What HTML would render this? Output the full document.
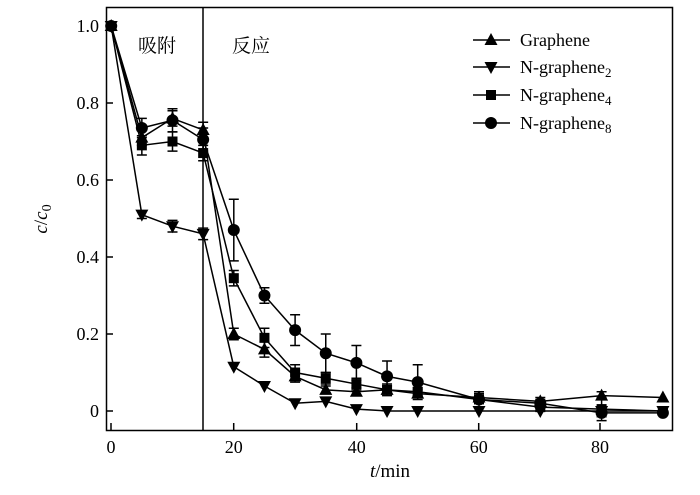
<!DOCTYPE html>
<html><head><meta charset="utf-8"><style>
body{margin:0;background:#fff}
svg text{font-family:"Liberation Serif","Noto Serif CJK SC",serif;fill:#000}
</style></head><body>
<svg id="s" width="700" height="490" viewBox="0 0 700 490" xmlns="http://www.w3.org/2000/svg">
<rect x="106.5" y="7.5" width="566" height="423" fill="none" stroke="#000" stroke-width="1.5"/>
<line x1="203" y1="7" x2="203" y2="430" stroke="#000" stroke-width="1.5"/>
<g stroke="#000" stroke-width="1.5">
<line x1="111" y1="430" x2="111" y2="423"/><line x1="233.7" y1="430" x2="233.7" y2="423"/><line x1="356.7" y1="430" x2="356.7" y2="423"/><line x1="478.7" y1="430" x2="478.7" y2="423"/><line x1="600" y1="430" x2="600" y2="423"/>
<line x1="106" y1="411" x2="113" y2="411"/><line x1="106" y1="334" x2="113" y2="334"/><line x1="106" y1="257" x2="113" y2="257"/><line x1="106" y1="180" x2="113" y2="180"/><line x1="106" y1="103" x2="113" y2="103"/><line x1="106" y1="26" x2="113" y2="26"/>
</g>
<g font-size="18" text-anchor="middle">
<text x="111" y="453">0</text><text x="233.7" y="453">20</text><text x="356.7" y="453">40</text><text x="478.7" y="453">60</text><text x="600" y="453">80</text>
</g>
<g font-size="18" text-anchor="end">
<text x="99" y="417">0</text><text x="99" y="340">0.2</text><text x="99" y="263">0.4</text><text x="99" y="186">0.6</text><text x="99" y="109">0.8</text><text x="99" y="32">1.0</text>
</g>
<text x="390" y="477" font-size="19" text-anchor="middle"><tspan font-style="italic">t</tspan>/min</text>
<text transform="translate(47,219) rotate(-90)" font-size="19" text-anchor="middle"><tspan font-style="italic">c</tspan>/<tspan font-style="italic">c</tspan><tspan font-size="14" dy="4">0</tspan></text>
<text x="138" y="52" font-size="19" style="font-family:'Noto Serif CJK SC',serif">吸附</text>
<text x="232" y="52" font-size="19" style="font-family:'Noto Serif CJK SC',serif">反应</text>
<g font-size="18">
<text x="520" y="46">Graphene</text>
<text x="520" y="73">N-graphene<tspan font-size="13" dy="4">2</tspan></text>
<text x="520" y="101">N-graphene<tspan font-size="13" dy="4">4</tspan></text>
<text x="520" y="129">N-graphene<tspan font-size="13" dy="4">8</tspan></text>
</g>
<g id="g"></g>
</svg>
<script>
var X=function(t){return 111.2+t*6.13},Y=function(v){return 411-v*385};
var ts=[0,5,10,15,20,25,30,35,40,45,50,60,70,80,90];
var S=[
["tri",[1,.71,.76,.73,.20,.16,.09,.055,.05,.055,.045,.035,.025,.04,.035],[0,.02,.02,.02,.015,.02,.015,.01,.01,.01,.01,.01,.01,.01,0]],
["inv",[1,.51,.48,.46,.115,.065,.02,.025,.005,0,0,0,0,0,0],[0,.01,.015,.015,0,0,0,0,0,0,0,0,0,0,0]],
["sq",[1,.69,.70,.67,.345,.19,.10,.085,.07,.055,.05,.03,.01,.005,0],[0,.025,.025,.02,.02,.025,.02,.015,.015,.015,.01,.01,.01,.03,0]],
["ci",[1,.735,.755,.705,.47,.30,.21,.15,.125,.09,.075,.03,.02,-.005,-.005],[0,.025,.03,.03,.08,.02,.04,.05,.045,.04,.045,.02,.01,.01,0]]];
var h='';
function mk(k,x,y){if(k=="tri")return '<polygon points="'+x+','+(y-7)+' '+(x-6.5)+','+(y+5)+' '+(x+6.5)+','+(y+5)+'"/>';
if(k=="inv")return '<polygon points="'+x+','+(y+7)+' '+(x-6.5)+','+(y-5)+' '+(x+6.5)+','+(y-5)+'"/>';
if(k=="sq")return '<rect x="'+(x-5)+'" y="'+(y-5)+'" width="10" height="10"/>';
return '<circle cx="'+x+'" cy="'+y+'" r="6"/>';}
S.forEach(function(s){var p=ts.map(function(t,i){return X(t)+','+Y(s[1][i])}).join(' ');
h+='<polyline points="'+p+'" fill="none" stroke="#000" stroke-width="1.5"/>';
ts.forEach(function(t,i){var e=s[2][i];if(e>0){var x=X(t),a=Y(s[1][i]+e),b=Y(s[1][i]-e);
h+='<path d="M'+x+' '+a+'V'+b+'M'+(x-5)+' '+a+'H'+(x+5)+'M'+(x-5)+' '+b+'H'+(x+5)+'" stroke="#000" stroke-width="1.5"/>';}
h+=mk(s[0],X(t),Y(s[1][i]));});});
var L=["tri","inv","sq","ci"];L.forEach(function(k,i){var y=[40,67,95,123][i];
h+='<line x1="473" y1="'+y+'" x2="510" y2="'+y+'" stroke="#000" stroke-width="1.5"/>'+mk(k,491,y);});
document.getElementById('g').innerHTML=h;
</script>
</body></html>
